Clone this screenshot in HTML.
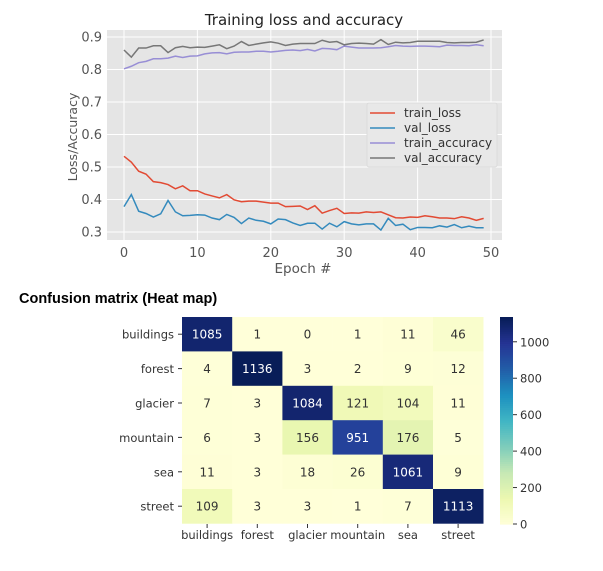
<!DOCTYPE html>
<html><head><meta charset="utf-8"><style>
html,body{margin:0;padding:0;background:#fff;width:603px;height:571px;overflow:hidden}
svg{display:block}
text{font-family:"DejaVu Sans","Liberation Sans",sans-serif}
</style></head><body>
<svg id="s" width="603" height="571" xmlns="http://www.w3.org/2000/svg">
<text x="19" y="303" font-family="Liberation Sans" font-weight="bold" font-size="14.5" fill="#000" style="font-family:'Liberation Sans',sans-serif">Confusion matrix (Heat map)</text>
</svg>
<script>
const trainLoss=[0.533,0.515,0.487,0.478,0.455,0.452,0.446,0.433,0.442,0.427,0.427,0.417,0.411,0.405,0.415,0.399,0.393,0.395,0.395,0.392,0.389,0.389,0.378,0.379,0.380,0.369,0.381,0.358,0.366,0.373,0.357,0.359,0.358,0.362,0.360,0.362,0.353,0.344,0.343,0.346,0.345,0.350,0.347,0.343,0.343,0.341,0.347,0.343,0.336,0.342];
const valLoss=[0.378,0.415,0.364,0.357,0.346,0.356,0.397,0.362,0.350,0.351,0.353,0.352,0.343,0.338,0.354,0.345,0.326,0.343,0.336,0.333,0.325,0.340,0.338,0.328,0.320,0.327,0.327,0.309,0.327,0.316,0.332,0.325,0.322,0.325,0.325,0.306,0.342,0.320,0.324,0.307,0.314,0.314,0.313,0.319,0.315,0.323,0.313,0.318,0.313,0.313];
const trainAcc=[0.802,0.810,0.821,0.825,0.833,0.833,0.835,0.841,0.837,0.841,0.842,0.848,0.851,0.852,0.848,0.853,0.854,0.854,0.856,0.856,0.854,0.856,0.859,0.860,0.858,0.862,0.857,0.865,0.864,0.861,0.872,0.869,0.866,0.866,0.866,0.867,0.870,0.874,0.872,0.871,0.872,0.872,0.871,0.870,0.875,0.874,0.874,0.873,0.876,0.873];
const valAcc=[0.860,0.838,0.866,0.866,0.873,0.873,0.852,0.867,0.871,0.867,0.869,0.868,0.872,0.876,0.864,0.872,0.886,0.874,0.878,0.882,0.885,0.881,0.874,0.878,0.880,0.880,0.880,0.890,0.884,0.886,0.876,0.880,0.881,0.880,0.878,0.892,0.877,0.884,0.882,0.883,0.887,0.887,0.887,0.887,0.883,0.882,0.883,0.883,0.884,0.891];
const xTicks=[0,10,20,30,40,50];
const yTicks=[0.3,0.4,0.5,0.6,0.7,0.8,0.9];
const classes=["buildings","forest","glacier","mountain","sea","street"];
const matrix=[[1085,1,0,1,11,46],[4,1136,3,2,9,12],[7,3,1084,121,104,11],[6,3,156,951,176,5],[11,3,18,26,1061,9],[109,3,3,1,7,1113]];
const cbTicks=[0,200,400,600,800,1000];

const S=document.getElementById('s');const NS='http://www.w3.org/2000/svg';
function mk(t,a,p){const e=document.createElementNS(NS,t);for(const k in a)e.setAttribute(k,a[k]);(p||S).appendChild(e);return e;}
const X=v=>124+v*(491-124)/50, Y=v=>232-(v-0.3)*(232-37)/0.6;
let e=mk('rect',{x:107,y:30,width:395,height:210,fill:'#e5e5e5'});

xTicks.forEach(t=>{let l=mk('line',{x1:X(t),x2:X(t),y1:30,y2:240,stroke:'#fff','stroke-width':1});

let tx=mk('text',{x:X(t),y:257,'text-anchor':'middle','font-size':13,fill:'#555'});tx.textContent=t;
});
yTicks.forEach(t=>{let l=mk('line',{x1:107,x2:502,y1:Y(t),y2:Y(t),stroke:'#fff','stroke-width':1});

let tx=mk('text',{x:102,y:Y(t)+4.5,'text-anchor':'end','font-size':13,fill:'#555'});tx.textContent=t.toFixed(1);
});
const series=[[trainLoss,'#e24a33','train-loss-line'],[valLoss,'#348abd','val-loss-line'],[trainAcc,'#988ed5','train-accuracy-line'],[valAcc,'#777777','val-accuracy-line']];
series.forEach(([d,c,n])=>{let p=mk('polyline',{points:d.map((v,i)=>X(i)+','+Y(v)).join(' '),fill:'none',stroke:c,'stroke-width':1.5});
});
e=mk('text',{x:304,y:25,'text-anchor':'middle','font-size':15,fill:'#222'});e.textContent='Training loss and accuracy';

e=mk('text',{x:303,y:273,'text-anchor':'middle','font-size':13.5,fill:'#555'});e.textContent='Epoch #';

e=mk('text',{x:0,y:0,'text-anchor':'middle','font-size':12.5,fill:'#555',transform:'translate(77,137) rotate(-90)'});e.textContent='Loss/Accuracy';

const lg=mk('g',{});
mk('rect',{x:367,y:103,width:130,height:64,fill:'#e8e8e8',stroke:'#d8d8d8','stroke-width':0.8,rx:2},lg);
['train_loss','val_loss','train_accuracy','val_accuracy'].forEach((n,i)=>{const y=113+i*15;
let g=mk('g',{},lg);
mk('line',{x1:370,x2:395,y1:y,y2:y,stroke:series[i][1],'stroke-width':1.5},g);
let t=mk('text',{x:404,y:y+4,'font-size':12,fill:'#333'},g);t.textContent=n;});
const stops=['#ffffd9','#edf8b1','#c7e9b4','#7fcdbb','#41b6c4','#1d91c0','#225ea8','#253494','#081d58'];
const vmax=1136;
function col(v){let f=Math.max(0,Math.min(1,v/vmax))*8,i=Math.min(7,Math.floor(f)),r=f-i;
const a=stops[i],b=stops[i+1];const h=(s,k)=>parseInt(s.substr(1+2*k,2),16);
return 'rgb('+[0,1,2].map(k=>Math.round(h(a,k)+(h(b,k)-h(a,k))*r)).join(',')+')';}
const hx=182,hy=317,cw=50.2,ch=34.4;
matrix.forEach((row,r)=>row.forEach((v,c)=>{let g=mk('g',{});
mk('rect',{x:hx+c*cw,y:hy+r*ch,width:cw+0.3,height:ch+0.3,fill:col(v)},g);
let t=mk('text',{x:hx+c*cw+cw/2,y:hy+r*ch+ch/2+4.5,'text-anchor':'middle','font-size':12,fill:v>vmax/2?'#fff':'#333'},g);t.textContent=v;}));
classes.forEach((n,i)=>{let t=mk('text',{x:174,y:hy+i*ch+ch/2+4.5,'text-anchor':'end','font-size':11.5,fill:'#333'});t.textContent=n;

mk('line',{x1:178,x2:182,y1:hy+i*ch+ch/2,y2:hy+i*ch+ch/2,stroke:'#333'});
let u=mk('text',{x:hx+i*cw+cw/2,y:539,'text-anchor':'middle','font-size':11.5,fill:'#333'});u.textContent=n;

mk('line',{x1:hx+i*cw+cw/2,x2:hx+i*cw+cw/2,y1:524,y2:528,stroke:'#333'});});
const cb=mk('g',{});
const cbTop=317,cbBot=524;
for(let i=0;i<100;i++){const v=vmax*(1-i/100);mk('rect',{x:500,y:cbTop+i*(cbBot-cbTop)/100,width:13,height:(cbBot-cbTop)/100+0.6,fill:col(v)},cb);}
cbTicks.forEach(t=>{const y=cbBot-t*(cbBot-cbTop)/vmax;mk('line',{x1:513,x2:517,y1:y,y2:y,stroke:'#333'},cb);
let tx=mk('text',{x:520,y:y+4.5,'font-size':11.5,fill:'#333'},cb);tx.textContent=t;});
</script>
</body></html>
